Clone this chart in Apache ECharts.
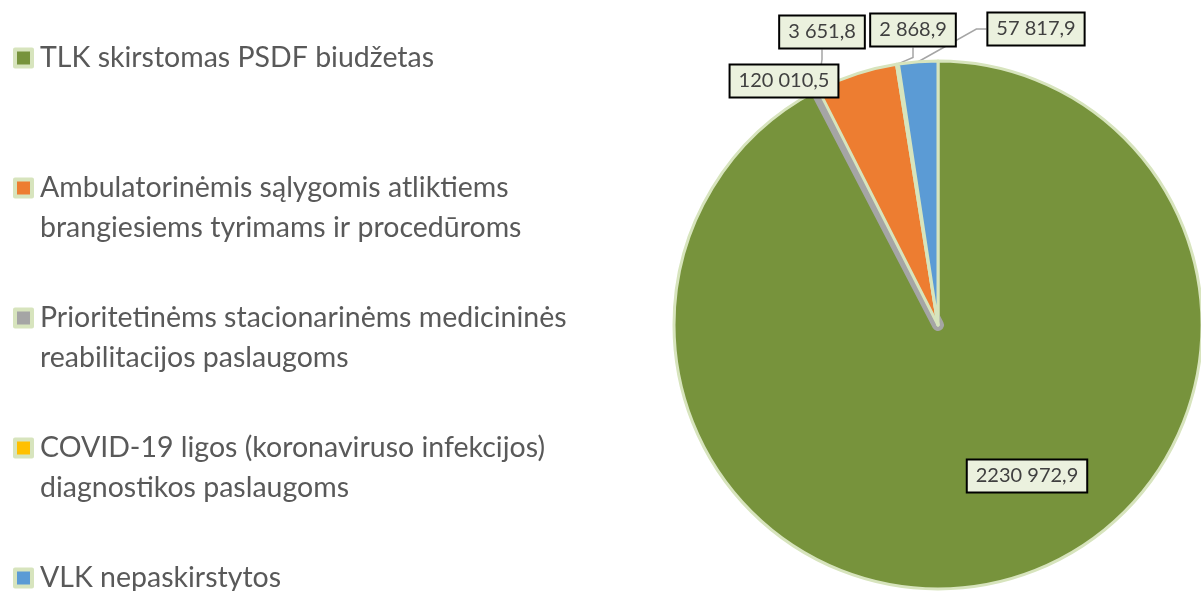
<!DOCTYPE html>
<html><head><meta charset="utf-8">
<script src="https://cdn.jsdelivr.net/npm/echarts@6/dist/echarts.min.js"></script>
<style>html,body{margin:0;padding:0;background:#fff}#c{width:1201px;height:591px}</style>
</head><body><div id="c"></div>
<script>
// categories in legend order
const categories = [
  'TLK skirstomas PSDF biudžetas',
  'Ambulatorinėmis sąlygomis atliktiems\nbrangiesiems tyrimams ir procedūroms',
  'Prioritetinėms stacionarinėms medicininės\nreabilitacijos paslaugoms',
  'COVID-19 ligos (koronaviruso infekcijos)\ndiagnostikos paslaugoms',
  'VLK nepaskirstytos'
];
const values = [2230972.9, 120010.5, 3651.8, 2868.9, 57817.9];
const colors = ['#77933c', '#ed7d31', '#a5a5a5', '#ffc000', '#5b9bd5'];
// order in which slices are drawn clockwise from 12 o'clock (indexes into categories)
const sliceOrder = [0, 2, 1, 3, 4];
// label box anchor points (label layout, not data)
const labelPos = {0: [1027, 476], 1: [784, 81], 2: [822, 32], 3: [913, 30], 4: [1036, 29]};

function fmt(v) {
  const s = v.toFixed(1).replace('.', ',');
  const [ip, dp] = s.split(',');
  const g = ip.length > 3 ? ip.slice(0, ip.length - 3) + ' ' + ip.slice(-3) : ip;
  return g + ',' + dp;
}

const FONT = 'Lato';
const pieData = sliceOrder.map(i => {
  const d = {
    name: categories[i], value: values[i], catIndex: i,
    itemStyle: { color: colors[i] }
  };
  if (i === 2) d.itemStyle = { color: colors[i], borderColor: '#a5a5a5', borderWidth: 12 };
  if (i === 0) { d.label = { position: 'inside' }; d.labelLine = { show: false }; }
  return d;
});

const chart = echarts.init(document.getElementById('c'), null, { renderer: 'canvas' });
chart.setOption({
  animation: false,
  backgroundColor: '#ffffff',
  legend: {
    orient: 'vertical',
    left: 13, top: -2, height: 900, padding: 0, itemGap: 10,
    icon: 'rect', itemWidth: 17, itemHeight: 17,
    itemStyle: { borderColor: '#d7e4bd', borderWidth: 4 },
    textStyle: { color: '#595959', fontSize: 28.5, fontFamily: FONT, lineHeight: 40, padding: [0, 0, 0, 3] },
    formatter: n => n.indexOf('\n') >= 0 ? '\n' + n : '\n' + n + '\n',
    selectedMode: false,
    data: categories
  },
  series: [{
    type: 'pie',
    center: [938, 325],
    radius: 264,
    startAngle: 90,
    clockwise: true,
    avoidLabelOverlap: false,
    itemStyle: { borderColor: '#d7e4bd', borderWidth: 3 },
    label: {
      show: true,
      formatter: p => fmt(p.value),
      color: '#404040', fontSize: 20, fontFamily: FONT,
      backgroundColor: '#ebf1de', borderColor: '#000', borderWidth: 2,
      padding: [6, 8, 5, 8]
    },
    labelLine: { show: true, length: 10, length2: 10, lineStyle: { color: '#a5a5a5', width: 1.5 } },
    labelLayout: p => {
      const idx = pieData[p.dataIndex].catIndex;
      const pos = labelPos[idx];
      return { x: pos[0], y: pos[1], align: 'center', verticalAlign: 'middle' };
    },
    emphasis: { disabled: true },
    data: pieData
  }]
});
</script></body></html>
